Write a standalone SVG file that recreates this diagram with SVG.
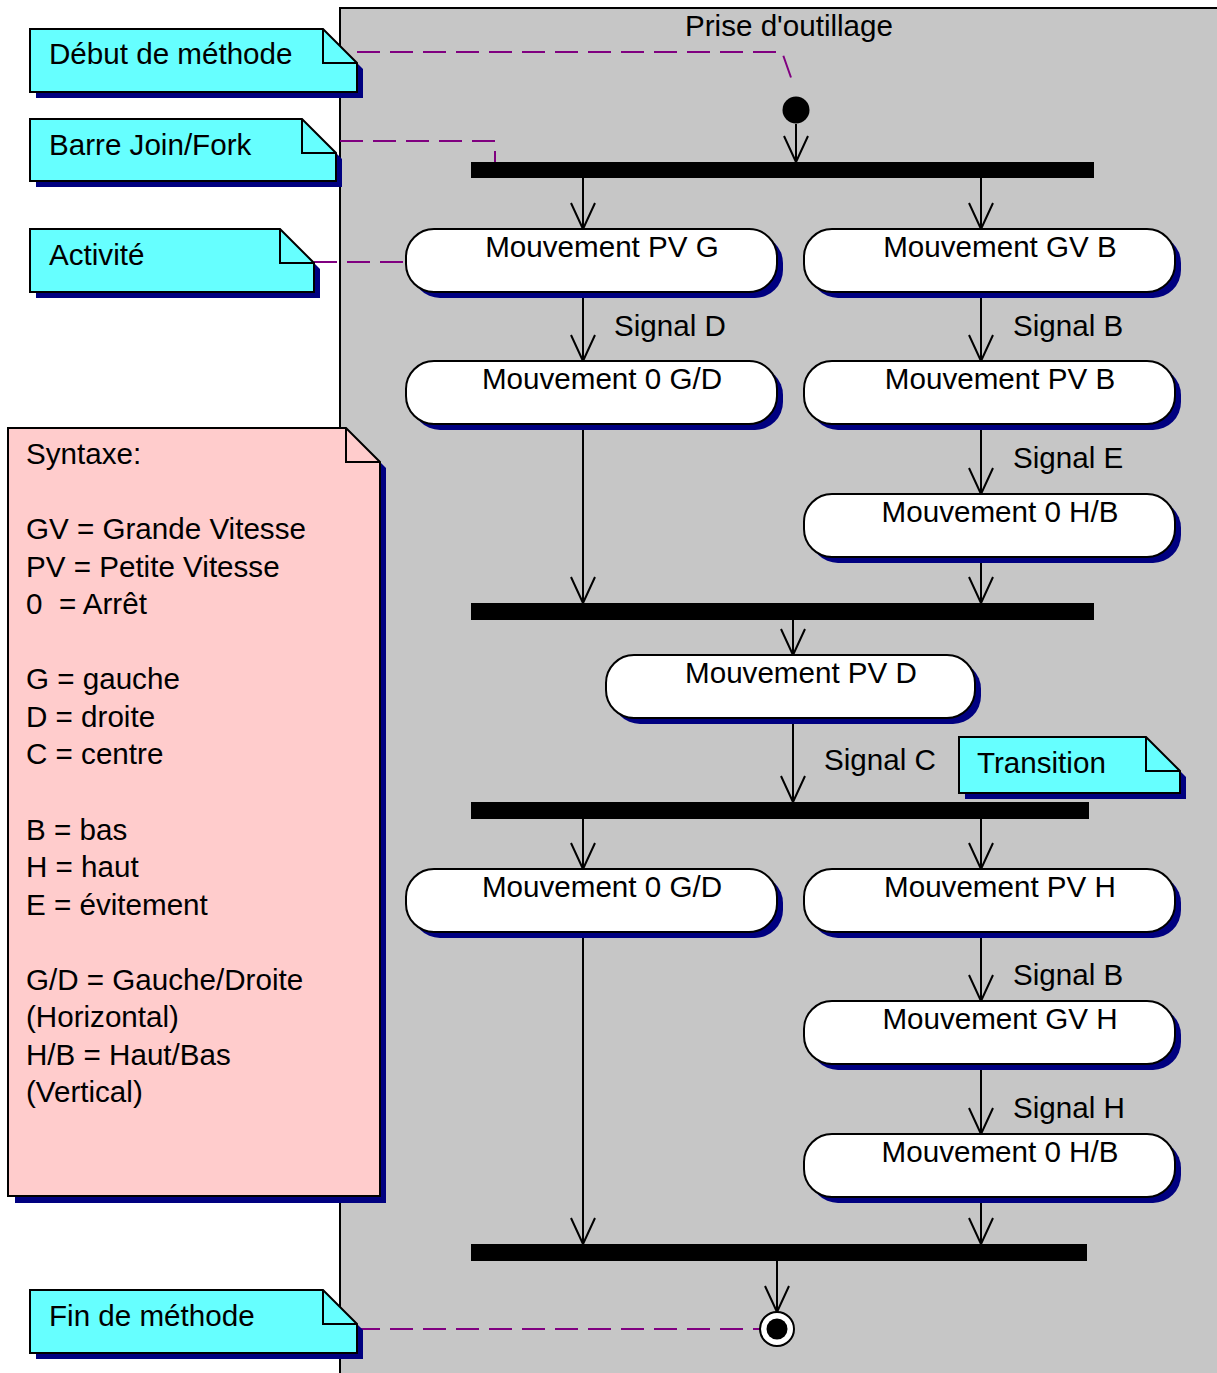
<svg xmlns="http://www.w3.org/2000/svg" width="1217" height="1373" viewBox="0 0 1217 1373">
<style>
text{font-family:"Liberation Sans",Arial,sans-serif;font-size:29.6px;fill:#000}
.act{fill:#fff;stroke:#000;stroke-width:2}
.sh{fill:#000080}
.note{fill:#66ffff;stroke:#000;stroke-width:2}
.pnote{fill:#ffcccc;stroke:#000;stroke-width:2}
.fold{fill:none;stroke:#000;stroke-width:2}
.bar{fill:#000}
.flow{fill:none;stroke:#000;stroke-width:2;marker-end:url(#ah)}
.dash{fill:none;stroke:#800080;stroke-width:2;stroke-dasharray:23 10}
.c{text-anchor:middle}
</style>
<defs>
<marker id="ah" markerUnits="userSpaceOnUse" viewBox="-28 -14 30 28" refX="0" refY="0" markerWidth="30" markerHeight="28" orient="auto" overflow="visible">
<path d="M-26,-12 L0,0 L-26,12" fill="none" stroke="#000" stroke-width="2"/>
</marker>
</defs>
<rect width="1217" height="1373" fill="#fff"/>
<g id="swimlane">
<path d="M1225,8 H340 V1380 H1225 Z" fill="#c6c6c6" stroke="#000" stroke-width="2"/>
<text x="789" y="36" class="c">Prise d'outillage</text>
</g>
<g id="connectors">
<path class="dash" d="M357,52 H782 L794,86"/>
<path class="dash" d="M340,141 H495 V162"/>
<path class="dash" d="M314,262 H406"/>
<path class="dash" d="M357,1329 H760"/>
<path class="flow" d="M796,124 V162"/>
<path class="flow" d="M583,178 V229"/>
<path class="flow" d="M981,178 V229"/>
<path class="flow" d="M583,292 V361"/>
<path class="flow" d="M981,292 V361"/>
<path class="flow" d="M981,424 V494"/>
<path class="flow" d="M583,424 V603"/>
<path class="flow" d="M981,557 V603"/>
<path class="flow" d="M793,620 V655"/>
<path class="flow" d="M793,718 V802"/>
<path class="flow" d="M583,819 V869"/>
<path class="flow" d="M981,819 V869"/>
<path class="flow" d="M981,932 V1001"/>
<path class="flow" d="M981,1064 V1134"/>
<path class="flow" d="M583,932 V1244"/>
<path class="flow" d="M981,1197 V1244"/>
<path class="flow" d="M777,1261 V1312"/>
<text x="614" y="336">Signal D</text>
<text x="1013" y="336">Signal B</text>
<text x="1013" y="468">Signal E</text>
<text x="824" y="770">Signal C</text>
<text x="1013" y="985">Signal B</text>
<text x="1013" y="1118">Signal H</text>
</g>
<g id="start"><circle cx="796" cy="110" r="13.5" fill="#000"/></g>
<g id="end"><circle cx="777" cy="1329" r="17" fill="#fff" stroke="#000" stroke-width="2"/><circle cx="777" cy="1329" r="10.5" fill="#000"/></g>
<g id="bar1"><rect class="bar" x="471" y="162" width="623" height="16"/></g>
<g id="bar2"><rect class="bar" x="471" y="603" width="623" height="17"/></g>
<g id="bar3"><rect class="bar" x="471" y="802" width="618" height="17"/></g>
<g id="bar4"><rect class="bar" x="471" y="1244" width="616" height="17"/></g>
<g id="a1"><rect class="sh" x="412" y="235" width="371" height="63" rx="28"/><rect class="act" x="406" y="229" width="371" height="63" rx="28"/><text x="602" y="257" class="c">Mouvement PV G</text></g>
<g id="a2"><rect class="sh" x="810" y="235" width="371" height="63" rx="28"/><rect class="act" x="804" y="229" width="371" height="63" rx="28"/><text x="1000" y="257" class="c">Mouvement GV B</text></g>
<g id="a3"><rect class="sh" x="412" y="367" width="371" height="63" rx="28"/><rect class="act" x="406" y="361" width="371" height="63" rx="28"/><text x="602" y="389" class="c">Mouvement 0 G/D</text></g>
<g id="a4"><rect class="sh" x="810" y="367" width="371" height="63" rx="28"/><rect class="act" x="804" y="361" width="371" height="63" rx="28"/><text x="1000" y="389" class="c">Mouvement PV B</text></g>
<g id="a5"><rect class="sh" x="810" y="500" width="371" height="63" rx="28"/><rect class="act" x="804" y="494" width="371" height="63" rx="28"/><text x="1000" y="522" class="c">Mouvement 0 H/B</text></g>
<g id="a6"><rect class="sh" x="612" y="661" width="369" height="63" rx="28"/><rect class="act" x="606" y="655" width="369" height="63" rx="28"/><text x="801" y="683" class="c">Mouvement PV D</text></g>
<g id="a7"><rect class="sh" x="412" y="875" width="371" height="63" rx="28"/><rect class="act" x="406" y="869" width="371" height="63" rx="28"/><text x="602" y="897" class="c">Mouvement 0 G/D</text></g>
<g id="a8"><rect class="sh" x="810" y="875" width="371" height="63" rx="28"/><rect class="act" x="804" y="869" width="371" height="63" rx="28"/><text x="1000" y="897" class="c">Mouvement PV H</text></g>
<g id="a9"><rect class="sh" x="810" y="1007" width="371" height="63" rx="28"/><rect class="act" x="804" y="1001" width="371" height="63" rx="28"/><text x="1000" y="1029" class="c">Mouvement GV H</text></g>
<g id="a10"><rect class="sh" x="810" y="1140" width="371" height="63" rx="28"/><rect class="act" x="804" y="1134" width="371" height="63" rx="28"/><text x="1000" y="1162" class="c">Mouvement 0 H/B</text></g>
<g id="n-debut"><path class="sh" d="M36,35 H329 L363,69 V98 H36 Z"/><path class="note" d="M30,29 H323 L357,63 V92 H30 Z"/><path class="fold" d="M323,29 V63 H357"/><text x="49" y="64">Début de méthode</text></g>
<g id="n-barre"><path class="sh" d="M36,125 H308 L342,159 V187 H36 Z"/><path class="note" d="M30,119 H302 L336,153 V181 H30 Z"/><path class="fold" d="M302,119 V153 H336"/><text x="49" y="155">Barre Join/Fork</text></g>
<g id="n-activite"><path class="sh" d="M36,235 H286 L320,269 V298 H36 Z"/><path class="note" d="M30,229 H280 L314,263 V292 H30 Z"/><path class="fold" d="M280,229 V263 H314"/><text x="49" y="265">Activité</text></g>
<g id="n-transition"><path class="sh" d="M965,743 H1152 L1186,777 V799 H965 Z"/><path class="note" d="M959,737 H1146 L1180,771 V793 H959 Z"/><path class="fold" d="M1146,737 V771 H1180"/><text x="977" y="773">Transition</text></g>
<g id="n-fin"><path class="sh" d="M36,1296 H329 L363,1330 V1359 H36 Z"/><path class="note" d="M30,1290 H323 L357,1324 V1353 H30 Z"/><path class="fold" d="M323,1290 V1324 H357"/><text x="49" y="1326">Fin de méthode</text></g>
<g id="n-syntaxe"><path class="sh" d="M15,434 H352 L386,468 V1203 H15 Z"/><path class="pnote" d="M8,428 H346 L380,462 V1196 H8 Z"/><path class="fold" d="M346,428 V462 H380"/>
<text x="26" y="464">Syntaxe:</text>
<text x="26" y="539">GV = Grande Vitesse</text>
<text x="26" y="577">PV = Petite Vitesse</text>
<text x="26" y="614" xml:space="preserve">0  = Arrêt</text>
<text x="26" y="689">G = gauche</text>
<text x="26" y="727">D = droite</text>
<text x="26" y="764">C = centre</text>
<text x="26" y="840">B = bas</text>
<text x="26" y="877">H = haut</text>
<text x="26" y="915">E = évitement</text>
<text x="26" y="990">G/D = Gauche/Droite</text>
<text x="26" y="1027">(Horizontal)</text>
<text x="26" y="1065">H/B = Haut/Bas</text>
<text x="26" y="1102">(Vertical)</text>
</g>
</svg>
